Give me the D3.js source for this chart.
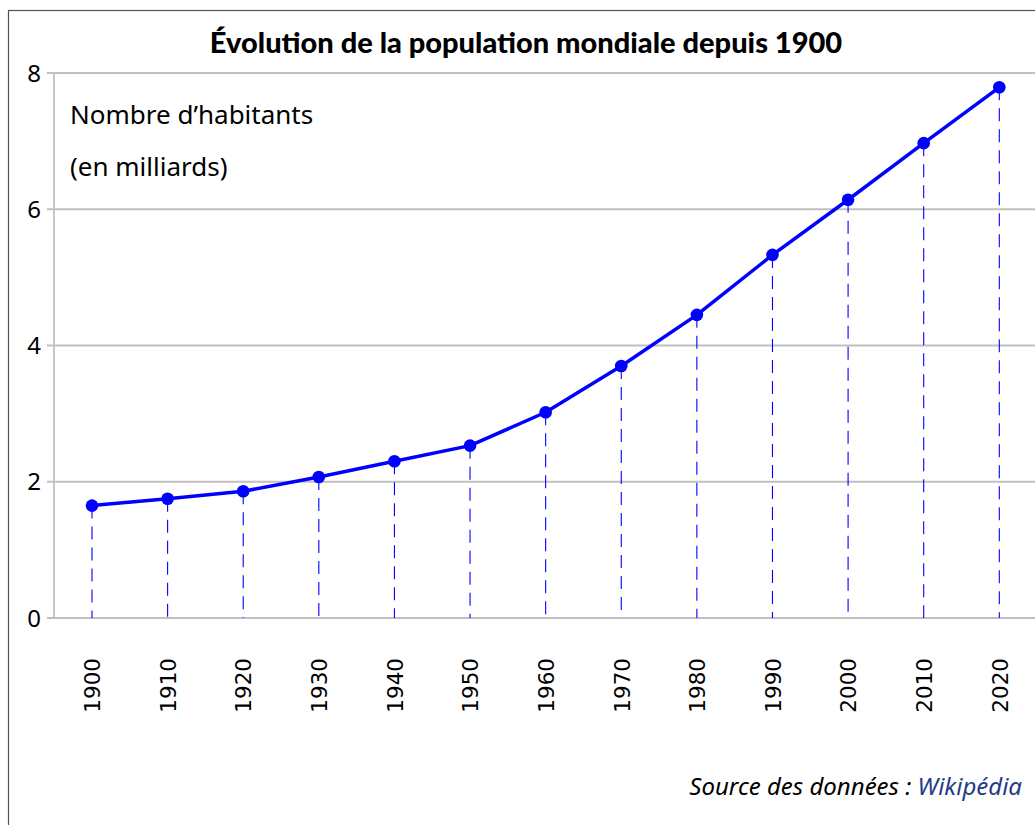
<!DOCTYPE html>
<html lang="fr">
<head>
<meta charset="utf-8">
<script src="https://cdn.jsdelivr.net/npm/d3@7"></script>
<style>
  html, body { margin: 0; padding: 0; background: #ffffff; }
  svg { display: block; }
</style>
</head>
<body>
<div id="chart"></div>
<script>
// World population since 1900 (billions of inhabitants)
const years = [1900, 1910, 1920, 1930, 1940, 1950, 1960, 1970, 1980, 1990, 2000, 2010, 2020];
const population = [1.65, 1.75, 1.86, 2.07, 2.30, 2.53, 3.02, 3.70, 4.45, 5.33, 6.14, 6.97, 7.79];
const yTicks = [0, 2, 4, 6, 8];

const titleText = "Évolution de la population mondiale depuis 1900";
const unitLines = ["Nombre d’habitants", "(en milliards)"];
const sourceLabel = "Source des données : ";
const sourceName = "Wikipédia";

const W = 1035, H = 825;
const bodyFont = "'Noto Sans', 'Open Sans', sans-serif";

const svg = d3.select("#chart").append("svg")
  .attr("width", W).attr("height", H);

// outer frame
svg.append("rect")
  .attr("x", 8.5).attr("y", 10.5)
  .attr("width", W + 20).attr("height", H + 20)
  .attr("fill", "none")
  .attr("stroke", "#555")
  .attr("stroke-width", 1.2);

const x = d3.scaleLinear().domain([1900, 2020]).range([92, 999.3]);
const y = d3.scaleLinear().domain([0, 8]).range([618, 73]);
const axisLeft = 54;

// title
svg.append("text")
  .attr("x", 526).attr("y", 53)
  .attr("text-anchor", "middle")
  .attr("font-family", "Lato, 'Noto Sans', sans-serif")
  .attr("font-weight", 900)
  .attr("font-size", 29)
  .attr("fill", "#000")
  .text(titleText);

// horizontal grid lines with left tick stubs
const grid = svg.append("g");
grid.selectAll("line")
  .data(yTicks)
  .join("line")
  .attr("x1", axisLeft - 7)
  .attr("x2", W + 10)
  .attr("y1", d => y(d))
  .attr("y2", d => y(d))
  .attr("stroke", "#c0c0c0")
  .attr("stroke-width", 1.8);

// vertical axis line
svg.append("line")
  .attr("x1", axisLeft).attr("x2", axisLeft)
  .attr("y1", y(8)).attr("y2", y(0))
  .attr("stroke", "#c0c0c0")
  .attr("stroke-width", 1.8);

// y tick labels
svg.append("g").selectAll("text")
  .data(yTicks)
  .join("text")
  .attr("x", 41)
  .attr("y", d => y(d))
  .attr("dy", "0.36em")
  .attr("text-anchor", "end")
  .attr("font-family", bodyFont)
  .attr("font-size", 24)
  .attr("fill", "#000")
  .text(d => d);

// x tick labels (rotated years) via d3 axis
const xAxis = d3.axisBottom(x)
  .tickValues(years)
  .tickFormat(d3.format("d"))
  .tickSize(0)
  .tickPadding(0);
const gx = svg.append("g")
  .attr("transform", `translate(0, ${y(0)})`)
  .call(xAxis);
gx.select(".domain").remove();
gx.selectAll("text")
  .attr("font-family", "'DejaVu Sans', sans-serif")
  .attr("font-size", 21.5)
  .attr("fill", "#000")
  .attr("text-anchor", "end")
  .attr("transform", "rotate(-90)")
  .attr("x", -40)
  .attr("y", 0)
  .attr("dy", "0.36em");

// unit label
svg.append("g").selectAll("text")
  .data(unitLines)
  .join("text")
  .attr("x", 70)
  .attr("y", (d, i) => 124 + i * 52)
  .attr("font-family", bodyFont)
  .attr("font-size", 26)
  .attr("fill", "#000")
  .text(d => d);

// dashed drop lines from each point
svg.append("g").selectAll("line")
  .data(years)
  .join("line")
  .attr("x1", d => x(d))
  .attr("x2", d => x(d))
  .attr("y1", (d, i) => y(population[i]))
  .attr("y2", y(0))
  .attr("stroke", "#0000ff")
  .attr("stroke-width", 1.1)
  .attr("stroke-dasharray", "13,8");

// population curve
const line = d3.line()
  .x((d, i) => x(years[i]))
  .y(d => y(d));
svg.append("path")
  .datum(population)
  .attr("d", line)
  .attr("fill", "none")
  .attr("stroke", "#0000ff")
  .attr("stroke-width", 3.5)
  .attr("stroke-linejoin", "round");

svg.append("g").selectAll("circle")
  .data(population)
  .join("circle")
  .attr("cx", (d, i) => x(years[i]))
  .attr("cy", d => y(d))
  .attr("r", 6.3)
  .attr("fill", "#0000ff");

// source note
const src = svg.append("text")
  .attr("x", 1022).attr("y", 795)
  .attr("text-anchor", "end")
  .attr("font-family", bodyFont)
  .attr("font-style", "italic")
  .attr("font-size", 24)
  .attr("fill", "#000");
src.append("tspan").text(sourceLabel);
src.append("tspan").attr("fill", "#1f3c88").text(sourceName);
</script>
</body>
</html>
